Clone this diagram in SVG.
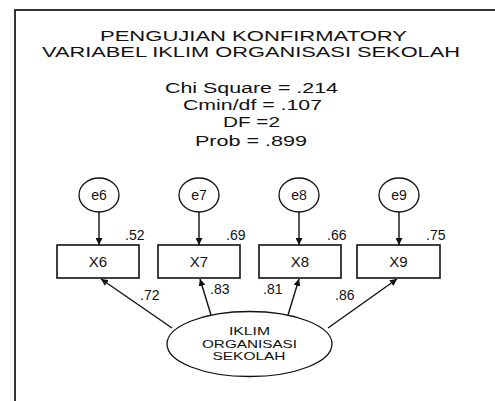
<svg xmlns="http://www.w3.org/2000/svg" width="495" height="401" viewBox="0 0 495 401">
<style>
text{font-family:"Liberation Sans",Arial,sans-serif;fill:#111}
.t{font-size:15px;text-anchor:middle}
.s{font-size:14px;text-anchor:middle}
.v{font-size:14px}
.b{font-size:15px;text-anchor:middle}
.n{font-size:11px;text-anchor:middle}
.box{fill:#fff;stroke:#111;stroke-width:1.6}
.err{fill:#fff;stroke:#111;stroke-width:1.3}
.lat{fill:#fff;stroke:#111;stroke-width:1.3}
.c{stroke:#111;stroke-width:1.4;fill:none;marker-end:url(#ah)}
</style>
<defs>
<marker id="ah" viewBox="0 0 10 10" refX="10" refY="5" markerWidth="7" markerHeight="7" orient="auto" markerUnits="userSpaceOnUse">
<path d="M0,0L10,5L0,10z" fill="#111"/>
</marker>
</defs>
<rect width="495" height="401" fill="#fff"/>
<path d="M15,401V10H495" fill="none" stroke="#333" stroke-width="2"/>
<g id="title">
<text class="t" x="253.5" y="41" textLength="307" lengthAdjust="spacingAndGlyphs">PENGUJIAN KONFIRMATORY</text>
<text class="t" x="251" y="57" textLength="418" lengthAdjust="spacingAndGlyphs">VARIABEL IKLIM ORGANISASI SEKOLAH</text>
</g>
<g id="fit">
<text class="s" x="251.5" y="93" textLength="173" lengthAdjust="spacingAndGlyphs">Chi Square = .214</text>
<text class="s" x="252.5" y="110" textLength="139" lengthAdjust="spacingAndGlyphs">Cmin/df = .107</text>
<text class="s" x="251.5" y="127" textLength="57" lengthAdjust="spacingAndGlyphs">DF =2</text>
<text class="s" x="251" y="146" textLength="112" lengthAdjust="spacingAndGlyphs">Prob = .899</text>
</g>
<g id="connectors">
<line class="c" x1="99" y1="212" x2="99" y2="245"/>
<line class="c" x1="199" y1="212" x2="199" y2="245"/>
<line class="c" x1="299" y1="212" x2="299" y2="245"/>
<line class="c" x1="399" y1="212" x2="399" y2="245"/>
<line class="c" x1="172" y1="328" x2="101" y2="279"/>
<line class="c" x1="211" y1="315" x2="200" y2="279"/>
<line class="c" x1="288" y1="315" x2="299" y2="279"/>
<line class="c" x1="328" y1="328" x2="397" y2="279"/>
</g>
<g id="e6"><ellipse class="err" cx="99" cy="195" rx="20" ry="17"/><text class="v" x="99" y="200" text-anchor="middle">e6</text></g>
<g id="e7"><ellipse class="err" cx="199" cy="195" rx="20" ry="17"/><text class="v" x="199" y="200" text-anchor="middle">e7</text></g>
<g id="e8"><ellipse class="err" cx="299" cy="195" rx="20" ry="17"/><text class="v" x="299" y="200" text-anchor="middle">e8</text></g>
<g id="e9"><ellipse class="err" cx="399" cy="195" rx="20" ry="17"/><text class="v" x="399" y="200" text-anchor="middle">e9</text></g>
<g id="X6"><rect class="box" x="57" y="245" width="82" height="33"/><text class="b" x="98" y="267">X6</text><text class="v" x="125" y="240">.52</text></g>
<g id="X7"><rect class="box" x="158" y="245" width="82" height="33"/><text class="b" x="199" y="267">X7</text><text class="v" x="226" y="240">.69</text></g>
<g id="X8"><rect class="box" x="259" y="245" width="82" height="33"/><text class="b" x="300" y="267">X8</text><text class="v" x="327" y="240">.66</text></g>
<g id="X9"><rect class="box" x="357" y="245" width="83" height="33"/><text class="b" x="398.5" y="267">X9</text><text class="v" x="426" y="240">.75</text></g>
<g id="labels">
<text class="v" x="140" y="300">.72</text>
<text class="v" x="210" y="294">.83</text>
<text class="v" x="263" y="294">.81</text>
<text class="v" x="335" y="300">.86</text>
</g>
<g id="IKLIM">
<ellipse class="lat" cx="249.5" cy="344" rx="82.5" ry="32.5"/>
<text class="n" x="249.5" y="335" textLength="41" lengthAdjust="spacingAndGlyphs">IKLIM</text>
<text class="n" x="249.5" y="348" textLength="95" lengthAdjust="spacingAndGlyphs">ORGANISASI</text>
<text class="n" x="249" y="360" textLength="73" lengthAdjust="spacingAndGlyphs">SEKOLAH</text>
</g>
</svg>
